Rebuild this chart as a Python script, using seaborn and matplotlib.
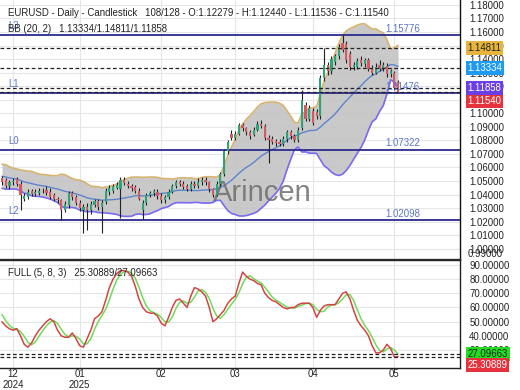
import numpy as np
import pandas as pd
import matplotlib
matplotlib.use("Agg")
import matplotlib.pyplot as plt
import matplotlib.transforms as mtransforms
import seaborn as sns

sns.set_theme(style="white")
plt.rcParams['font.family'] = ['Liberation Sans', 'DejaVu Sans']

# ---------------- data ----------------
opens = [
    1.0525, 1.0510, 1.0460, 1.0490, 1.0515, 1.0480, 1.0370, 1.0385, 1.0425, 1.0405,
    1.0410, 1.0430, 1.0435, 1.0420, 1.0395, 1.0365, 1.0360, 1.0290, 1.0320, 1.0410,
    1.0380, 1.0340, 1.0290, 1.0310, 1.0285, 1.0325, 1.0350, 1.0310, 1.0345, 1.0420,
    1.0430, 1.0450, 1.0440, 1.0505, 1.0480, 1.0465, 1.0455, 1.0430, 1.0290, 1.0340,
    1.0395, 1.0410, 1.0420, 1.0390, 1.0360, 1.0385, 1.0420, 1.0460, 1.0495, 1.0480,
    1.0460, 1.0440, 1.0480, 1.0465, 1.0490, 1.0510, 1.0490, 1.0440, 1.0400, 1.0480,
    1.0550, 1.0720, 1.0850, 1.0820, 1.0850, 1.0910, 1.0890, 1.0860, 1.0840, 1.0880,
    1.0920, 1.0905, 1.0820, 1.0810, 1.0795, 1.0790, 1.0775, 1.0810, 1.0860, 1.0830,
    1.0800, 1.0890, 1.1060, 1.0960, 1.1020, 1.1010, 1.0980, 1.1260, 1.1360, 1.1310,
    1.1380, 1.1420, 1.1520, 1.1510, 1.1440, 1.1340, 1.1345, 1.1395, 1.1365, 1.1390,
    1.1335, 1.1300, 1.1355, 1.1330, 1.1350, 1.1290, 1.1300, 1.12279]
highs = [
    1.0540, 1.0520, 1.0510, 1.0520, 1.0530, 1.0500, 1.0410, 1.0440, 1.0440, 1.0440,
    1.0450, 1.0450, 1.0460, 1.0450, 1.0410, 1.0380, 1.0370, 1.0350, 1.0430, 1.0430,
    1.0400, 1.0360, 1.0330, 1.0340, 1.0350, 1.0370, 1.0370, 1.0360, 1.0450, 1.0470,
    1.0480, 1.0490, 1.0530, 1.0530, 1.0500, 1.0480, 1.0470, 1.0450, 1.0360, 1.0410,
    1.0430, 1.0440, 1.0440, 1.0410, 1.0400, 1.0440, 1.0480, 1.0510, 1.0510, 1.0500,
    1.0480, 1.0500, 1.0500, 1.0520, 1.0530, 1.0530, 1.0500, 1.0450, 1.0500, 1.0570,
    1.0740, 1.0800, 1.0880, 1.0870, 1.0930, 1.0930, 1.0900, 1.0880, 1.0900, 1.0940,
    1.0950, 1.0920, 1.0840, 1.0830, 1.0810, 1.0810, 1.0830, 1.0880, 1.0880, 1.0850,
    1.0900, 1.1170, 1.1080, 1.1060, 1.1040, 1.1030, 1.1280, 1.1480, 1.1380, 1.1420,
    1.1440, 1.1510, 1.1577, 1.1530, 1.1460, 1.1380, 1.1410, 1.1420, 1.1410, 1.1410,
    1.1360, 1.1370, 1.1390, 1.1380, 1.1370, 1.1330, 1.1310, 1.12440]
lows = [
    1.0470, 1.0450, 1.0440, 1.0470, 1.0460, 1.0290, 1.0350, 1.0370, 1.0390, 1.0390,
    1.0400, 1.0410, 1.0400, 1.0370, 1.0350, 1.0340, 1.0210, 1.0270, 1.0300, 1.0360,
    1.0320, 1.0280, 1.0120, 1.0140, 1.0260, 1.0310, 1.0290, 1.0120, 1.0330, 1.0400,
    1.0410, 1.0440, 1.0230, 1.0470, 1.0450, 1.0430, 1.0410, 1.0360, 1.0220, 1.0320,
    1.0380, 1.0390, 1.0370, 1.0340, 1.0340, 1.0370, 1.0410, 1.0450, 1.0460, 1.0440,
    1.0430, 1.0430, 1.0450, 1.0450, 1.0470, 1.0470, 1.0420, 1.0380, 1.0390, 1.0460,
    1.0540, 1.0700, 1.0800, 1.0800, 1.0840, 1.0870, 1.0840, 1.0810, 1.0830, 1.0870,
    1.0890, 1.0800, 1.0630, 1.0770, 1.0760, 1.0760, 1.0760, 1.0790, 1.0810, 1.0790,
    1.0790, 1.0880, 1.0940, 1.0940, 1.0910, 1.0960, 1.0960, 1.1240, 1.1280, 1.1290,
    1.1360, 1.1400, 1.1450, 1.1370, 1.1320, 1.1320, 1.1330, 1.1350, 1.1340, 1.1310,
    1.1280, 1.1290, 1.1310, 1.1310, 1.1270, 1.1270, 1.1170, 1.11536]
closes = [
    1.0490, 1.0465, 1.0490, 1.0500, 1.0480, 1.0400, 1.0390, 1.0420, 1.0405, 1.0420,
    1.0430, 1.0425, 1.0410, 1.0385, 1.0365, 1.0360, 1.0290, 1.0330, 1.0410, 1.0380,
    1.0340, 1.0300, 1.0310, 1.0285, 1.0330, 1.0350, 1.0310, 1.0340, 1.0430, 1.0450,
    1.0460, 1.0470, 1.0505, 1.0485, 1.0465, 1.0450, 1.0430, 1.0370, 1.0340, 1.0395,
    1.0410, 1.0425, 1.0390, 1.0360, 1.0385, 1.0420, 1.0460, 1.0490, 1.0480, 1.0455,
    1.0440, 1.0480, 1.0465, 1.0495, 1.0510, 1.0490, 1.0440, 1.0395, 1.0480, 1.0550,
    1.0720, 1.0790, 1.0820, 1.0850, 1.0910, 1.0890, 1.0860, 1.0830, 1.0880, 1.0920,
    1.0905, 1.0820, 1.0800, 1.0790, 1.0780, 1.0775, 1.0810, 1.0860, 1.0830, 1.0805,
    1.0880, 1.1100, 1.0960, 1.1040, 1.0930, 1.0980, 1.1260, 1.1360, 1.1310, 1.1400,
    1.1420, 1.1490, 1.1470, 1.1390, 1.1340, 1.1355, 1.1385, 1.1370, 1.1395, 1.1330,
    1.1300, 1.1340, 1.1330, 1.1355, 1.1290, 1.1310, 1.1190, 1.11540]
# closes before the visible window (warm-up for the 20-period bands)
prior_closes = [1.060, 1.058, 1.062, 1.059, 1.057, 1.061, 1.058, 1.055, 1.053, 1.056,
                1.054, 1.051, 1.049, 1.052, 1.050, 1.048, 1.046, 1.050, 1.052, 1.051]

stoch_k = [
    50, 47, 45, 44, 45, 40, 34, 32, 35, 40,
    44, 47, 50, 52, 50, 44, 40, 39, 39, 42,
    38, 33, 32, 38, 44, 52, 54, 57, 65, 74,
    80, 84, 86, 86, 85, 82, 75, 66, 60, 57,
    56, 56, 54, 49, 47, 53, 60, 65, 66, 63,
    60, 68, 74, 73, 71, 68, 60, 50, 52, 55,
    58, 63, 66, 68, 77, 85, 82, 80, 79, 77,
    76, 70, 67, 65, 64, 62, 60, 59, 60, 60,
    62, 63, 63, 63, 60, 53, 58, 61, 62, 62,
    62, 66, 70, 71, 66, 58, 51, 47, 44, 40,
    33, 28, 28, 30, 34, 31, 25, 25.30889]
prior_stoch_k = [60, 55]

holidays = ['2024-12-24', '2024-12-25', '2024-12-26', '2024-12-31', '2025-01-01']
level_names = ['L3', 'L1', 'L0', 'L2']
level_values = [1.15776, 1.11476, 1.07322, 1.02098]
bb_last = [1.13334, 1.14811, 1.11858]   # mid / upper / lower
stoch_last = [25.30889, 27.09663]       # K / D
ohlc_last = [1.12279, 1.12440, 1.11536, 1.11540]

# ---------------- derived ----------------
n = len(closes)
idx = np.arange(n)
dates = pd.bdate_range('2024-11-27', '2025-05-02').drop(pd.to_datetime(holidays))
dates = dates[:n]
o = np.array(opens); h = np.array(highs); l = np.array(lows); c = np.array(closes)

allc = pd.Series(prior_closes + closes)
mid = allc.rolling(20).mean().to_numpy()[-n:]
sd = allc.rolling(20).std(ddof=0).to_numpy()[-n:]
upper = mid + 2 * sd
lower = mid - 2 * sd

allk = pd.Series(prior_stoch_k + stoch_k)
stoch_d = allk.rolling(3, min_periods=1).mean().to_numpy()[-n:]

months = np.array([d.month for d in dates])
first_idx = [0] + [i for i in range(1, n) if months[i] != months[i - 1]]
first_idx = [i for i in first_idx if dates[i].day <= 3]
tick_labels = []
prev_year = None
for i in first_idx:
    d = dates[i]
    if prev_year is None or d.year != prev_year:
        tick_labels.append(f"{d.month:02d}\n{d.year}")
    else:
        tick_labels.append(f"{d.month:02d}")
    prev_year = d.year

# ---------------- figure ----------------
W, H = 520, 390
fig = plt.figure(figsize=(W / 100, H / 100), dpi=100)
fig.patch.set_facecolor('white')

def fa(x0, y0, x1, y1):
    return [x0 / W, 1 - y1 / H, (x1 - x0) / W, (y1 - y0) / H]

ax = fig.add_axes(fa(0, 0, 459.5, 259))
ax2 = fig.add_axes(fa(0, 260, 459.5, 368))

FS = 6.9
txtc = '#222222'
grid_c = '#e6e6e6'
XL = (-0.54, 123.6)

# main panel
ax.set_xlim(*XL)
ax.set_ylim(0.99247, 1.18362)
ax.set_yticks(np.round(np.arange(1.00, 1.1801, 0.01), 2))
ax.yaxis.tick_right()
ax.yaxis.set_major_formatter(matplotlib.ticker.FormatStrFormatter('%.5f'))
ax.tick_params(axis='y', length=0, pad=7, labelsize=FS, colors=txtc)
ax.set_xticks(first_idx)
ax.tick_params(axis='x', length=0, labelbottom=False)
ax.grid(True, color=grid_c, lw=0.8)
ax.set_axisbelow(True)
for s in ['left', 'top']:
    ax.spines[s].set_visible(False)
ax.spines['right'].set_color('#111111'); ax.spines['right'].set_linewidth(1)
ax.spines['bottom'].set_color('#333333'); ax.spines['bottom'].set_linewidth(1)

# bollinger band
ax.fill_between(idx, lower, upper, color='#c6c6c6', alpha=0.95, lw=0, zorder=1)
sns.lineplot(x=idx, y=upper, ax=ax, color='#d8b36e', lw=1.2, zorder=2, legend=False)
sns.lineplot(x=idx, y=lower, ax=ax, color='#7a6cf0', lw=1.2, zorder=2, legend=False)
sns.lineplot(x=idx, y=mid, ax=ax, color='#5f84cc', lw=1.0, zorder=2, legend=False)

# watermark
ax.text(213 / 459.5, 1 - 193 / 259, 'Arincen', transform=ax.transAxes, fontsize=21,
        color='#6e6e6e', alpha=0.85, ha='left', va='center', zorder=2.5)

# levels
blend = mtransforms.blended_transform_factory(ax.transAxes, ax.transData)
for name, v in zip(level_names, level_values):
    ax.axhline(v, color='#2b2b8c', lw=1.3, zorder=3)
    ax.annotate(name, xy=(8 / 459.5, v), xycoords=blend, xytext=(0, 6.5),
                textcoords='offset points', fontsize=FS, color='#5b74c9',
                ha='left', va='center', annotation_clip=False, zorder=5)
    ax.annotate(f"{v:.5f}", xy=(385 / 459.5, v), xycoords=blend, xytext=(0, 4.5),
                textcoords='offset points', fontsize=FS, color='#5b74c9',
                ha='left', va='center', annotation_clip=False, zorder=5)

# candles
up = c >= o
body_lo = np.minimum(o, c)
body_h = np.maximum(np.abs(c - o), 0.0004)
ax.vlines(idx, l, h, color='#222222', lw=0.8, zorder=3.5)
ax.bar(idx[up], body_h[up], bottom=body_lo[up], width=0.6, color='#2ea37a', lw=0, zorder=4)
ax.bar(idx[~up], body_h[~up], bottom=body_lo[~up], width=0.6, color='#d35a63', lw=0, zorder=4)

# current value dashed lines
for v in [bb_last[1], bb_last[0], bb_last[2], ohlc_last[3]]:
    ax.axhline(v, color='#222222', lw=0.9, ls=(0, (3, 2)), zorder=4.5)

# right tags
def tag(axis, v, text, fc, tc, dy=0):
    tr = mtransforms.blended_transform_factory(axis.transAxes, axis.transData)
    axis.annotate(text, xy=(467.5 / 459.5, v), xycoords=tr, xytext=(0, dy),
                  textcoords='offset points', fontsize=FS, color=tc, ha='left', va='center',
                  annotation_clip=False, zorder=10,
                  bbox=dict(boxstyle='square,pad=0.18', fc=fc, ec='none'))

tag(ax, bb_last[1], f"{bb_last[1]:.5f}", '#e6b53e', '#222222')
tag(ax, bb_last[0], f"{bb_last[0]:.5f}", '#1e9af2', 'white')
tag(ax, bb_last[2], f"{bb_last[2]:.5f}", '#6a40e6', 'white')
tag(ax, ohlc_last[3], f"{ohlc_last[3]:.5f}", '#e5323c', 'white', dy=-6.5)
fig.text(467.5 / W, 1 - 254 / H, '0.99000', fontsize=FS, color=txtc, ha='left', va='center')

# header texts
fig.text(8 / W, 1 - 13 / H,
         f"EURUSD - Daily - Candlestick   {n}/128 - O:{ohlc_last[0]:.5f} - H:{ohlc_last[1]:.5f}"
         f" - L:{ohlc_last[2]:.5f} - C:{ohlc_last[3]:.5f}",
         fontsize=FS, color=txtc, ha='left', va='center')
fig.text(8 / W, 1 - 29 / H,
         f"BB (20, 2)   {bb_last[0]:.5f}/{bb_last[1]:.5f}/{bb_last[2]:.5f}",
         fontsize=FS, color=txtc, ha='left', va='center')

# lower panel
ax2.set_xlim(*XL)
ax2.set_ylim(17.3, 93.5)
ax2.set_yticks(np.arange(30, 91, 10))
ax2.yaxis.tick_right()
ax2.yaxis.set_major_formatter(matplotlib.ticker.FormatStrFormatter('%.5f'))
ax2.tick_params(axis='y', length=0, pad=7, labelsize=FS, colors=txtc)
ax2.set_xticks(first_idx)
ax2.set_xticklabels(tick_labels)
ax2.tick_params(axis='x', length=0, pad=0.6, labelsize=FS, colors=txtc)
for lab in ax2.get_xticklabels():
    lab.set_linespacing(1.1)
ax2.grid(True, color=grid_c, lw=0.8)
ax2.set_axisbelow(True)
ax2.spines['left'].set_visible(False)
for s in ['top', 'bottom', 'right']:
    ax2.spines[s].set_color('#222222'); ax2.spines[s].set_linewidth(1)

sns.lineplot(x=idx, y=stoch_d, ax=ax2, color='#6fdc5a', lw=1.1, zorder=3, legend=False)
sns.lineplot(x=idx, y=stoch_k, ax=ax2, color='#d24545', lw=1.1, zorder=4, legend=False)
for v in [stoch_last[1], stoch_last[0]]:
    ax2.axhline(v, color='#222222', lw=0.9, ls=(0, (3, 2)), zorder=5)
tag(ax2, stoch_last[1], f"{stoch_last[1]:.5f}", '#22dd22', '#222222')
tag(ax2, stoch_last[0], f"{stoch_last[0]:.5f}", '#e5323c', 'white', dy=-6)
ax2.set_xlabel(''); ax2.set_ylabel(''); ax.set_xlabel(''); ax.set_ylabel('')

fig.text(8 / W, 1 - 273 / H, f"FULL (5, 8, 3)   {stoch_last[0]:.5f}/{stoch_last[1]:.5f}",
         fontsize=FS, color=txtc, ha='left', va='center')

fig.savefig('out.png', dpi=100)
